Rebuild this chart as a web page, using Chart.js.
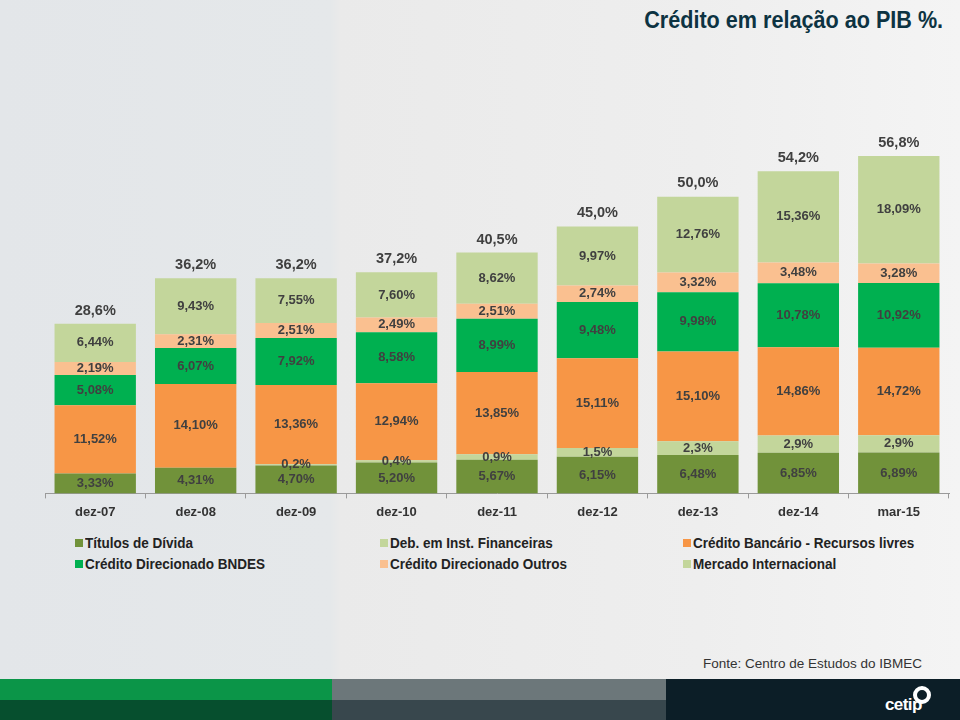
<!DOCTYPE html>
<html>
<head>
<meta charset="utf-8">
<script src="https://cdn.jsdelivr.net/npm/chart.js@4.4.1/dist/chart.umd.min.js"></script>
<style>
  body { margin: 0; width: 960px; height: 720px; overflow: hidden; font-family: Arial, "Liberation Sans", sans-serif; }
  #page {
    position: relative; width: 960px; height: 720px;
    background: linear-gradient(to right, #e3e6e9 0, #e5e8ea 330px, #eaeaea 340px, #eeeeee 700px, #f4f4f4 960px);
  }
  #title {
    position: absolute; right: 17px; top: 6px; font-size: 24px; font-weight: bold; color: #0d3342;
    transform: scaleX(0.9); transform-origin: right center; white-space: nowrap;
  }
  #chartBox { position: absolute; left: 0; top: 0; width: 960px; height: 530px; }
  #legend { position: absolute; left: 75px; top: 533px; width: 880px; }
  .item { position: absolute; height: 20px; line-height: 20px; white-space: nowrap; font-size: 15px; font-weight: bold; color: #222; }
  .item i { position: absolute; left: 0; top: 6px; width: 8px; height: 8px; }
  .item span { position: absolute; left: 10px; top: 0; display: inline-block; transform: scaleX(0.9); transform-origin: left center; }
  #source { position: absolute; left: 703px; top: 656px; font-size: 13.5px; color: #333; white-space: nowrap; }
  .foot { position: absolute; }
  #cetip { position: absolute; left: 885px; top: 695px; font-size: 17px; font-weight: bold; color: #fff; letter-spacing: -0.6px; }
  #cetipDot { position: absolute; left: 913px; top: 686px; width: 10px; height: 10px; border: 4px solid #fff; border-radius: 50%; }
</style>
</head>
<body>
<div id="page">
  <div id="title">Crédito em relação ao PIB %.</div>
  <div id="chartBox"><canvas id="chart" width="960" height="530"></canvas></div>
  <div id="legend"></div>
  <div id="source">Fonte: Centro de Estudos do IBMEC</div>
  <div class="foot" style="left:0;top:679px;width:332px;height:21px;background:#0b9548"></div>
  <div class="foot" style="left:0;top:700px;width:332px;height:20px;background:#064f2e"></div>
  <div class="foot" style="left:332px;top:679px;width:334px;height:21px;background:#6c777a"></div>
  <div class="foot" style="left:332px;top:700px;width:334px;height:20px;background:#38474d"></div>
  <div class="foot" style="left:666px;top:679px;width:294px;height:41px;background:#0c1e27"></div>
  <div id="cetip">cetip</div>
  <div id="cetipDot"></div>
</div>
<script>
const categories = ['dez-07', 'dez-08', 'dez-09', 'dez-10', 'dez-11', 'dez-12', 'dez-13', 'dez-14', 'mar-15'];

const titulosDivida = [3.33, 4.31, 4.70, 5.20, 5.67, 6.15, 6.48, 6.85, 6.89];
const debInstFinanceiras = [0, 0, 0.2, 0.4, 0.9, 1.5, 2.3, 2.9, 2.9];
const creditoBancarioLivres = [11.52, 14.10, 13.36, 12.94, 13.85, 15.11, 15.10, 14.86, 14.72];
const creditoDirecionadoBndes = [5.08, 6.07, 7.92, 8.58, 8.99, 9.48, 9.98, 10.78, 10.92];
const creditoDirecionadoOutros = [2.19, 2.31, 2.51, 2.49, 2.51, 2.74, 3.32, 3.48, 3.28];
const mercadoInternacional = [6.44, 9.43, 7.55, 7.60, 8.62, 9.97, 12.76, 15.36, 18.09];

// totals printed above each bar
const totals = [28.6, 36.2, 36.2, 37.2, 40.5, 45.0, 50.0, 54.2, 56.8];

const seriesNames = [
  'Títulos de Dívida',
  'Deb. em Inst. Financeiras',
  'Crédito Bancário - Recursos livres',
  'Crédito Direcionado  BNDES',
  'Crédito Direcionado Outros',
  'Mercado Internacional'
];
const seriesValues = [titulosDivida, debInstFinanceiras, creditoBancarioLivres,
  creditoDirecionadoBndes, creditoDirecionadoOutros, mercadoInternacional];
const seriesDecimals = [2, 1, 2, 2, 2, 2];
const seriesColors = ['#71923a', '#c3d69b', '#f79646', '#00b050', '#fac090', '#c3d69b'];

function fmt(v, d) {
  return v.toFixed(d).replace('.', ',') + '%';
}

const labelPlugin = {
  id: 'barLabels',
  afterDatasetsDraw(chart) {
    const ctx = chart.ctx;
    ctx.save();
    ctx.textAlign = 'center';
    ctx.textBaseline = 'middle';
    ctx.fillStyle = '#404040';
    ctx.font = 'bold 13px Arial, "Liberation Sans", sans-serif';
    chart.data.datasets.forEach((ds, i) => {
      const meta = chart.getDatasetMeta(i);
      meta.data.forEach((bar, j) => {
        const v = ds.data[j];
        if (!v) return;
        ctx.fillText(fmt(v, seriesDecimals[i]), bar.x, (bar.y + bar.base) / 2);
      });
    });
    ctx.font = 'bold 14.5px Arial, "Liberation Sans", sans-serif';
    const yScale = chart.scales.y;
    const first = chart.getDatasetMeta(0);
    totals.forEach((t, j) => {
      ctx.fillText(fmt(t, 1), first.data[j].x, yScale.getPixelForValue(t) - 13);
    });
    ctx.restore();
  }
};

const chart = new Chart(document.getElementById('chart'), {
  type: 'bar',
  data: {
    labels: categories,
    datasets: seriesNames.map((name, i) => ({
      label: name,
      data: seriesValues[i],
      backgroundColor: seriesColors[i],
      borderWidth: 0,
      barPercentage: 0.9,
      categoryPercentage: 0.9
    }))
  },
  options: {
    responsive: false,
    animation: false,
    layout: { padding: { left: 45, right: 11, top: 137, bottom: 4 } },
    plugins: { legend: { display: false }, tooltip: { enabled: false } },
    scales: {
      x: {
        stacked: true,
        grid: { offset: true, drawOnChartArea: false, drawTicks: true, tickLength: 5, color: '#9a9a9a' },
        border: { color: '#9a9a9a' },
        ticks: { color: '#333', padding: 6, font: { family: 'Arial, "Liberation Sans", sans-serif', size: 13, weight: 'bold' } }
      },
      y: { stacked: true, display: false, min: 0, max: 60 }
    }
  },
  plugins: [labelPlugin]
});

// legend in three columns, row-major order
const legend = document.getElementById('legend');
const colX = [0, 305, 608];
seriesNames.forEach((name, i) => {
  const el = document.createElement('div');
  el.className = 'item';
  el.style.left = colX[i % 3] + 'px';
  el.style.top = (Math.floor(i / 3) * 21) + 'px';
  el.innerHTML = '<i style="background:' + seriesColors[i] + '"></i><span></span>';
  el.querySelector('span').textContent = name;
  legend.appendChild(el);
});
</script>
</body>
</html>
